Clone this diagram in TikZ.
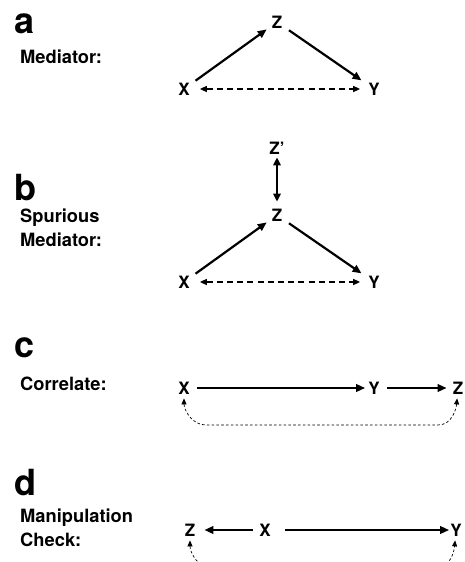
\documentclass[tikz,border=0pt]{standalone}
\usepackage{fontspec}
\setmainfont{TeX Gyre Heros}
\usetikzlibrary{arrows.meta}

\tikzset{
  var/.style={font=\bfseries\fontsize{17}{17}\selectfont, inner sep=0pt},
  panel/.style={font=\bfseries\fontsize{36}{36}\selectfont, inner sep=0pt, anchor=base west},
  caption/.style={font=\bfseries\fontsize{18.3}{24}\selectfont, inner sep=0pt, anchor=base west, align=left},
  cause/.style={line width=2.2pt, -{Triangle[length=9pt,width=7.5pt]}},
  twoway/.style={line width=2pt, {Triangle[length=8pt,width=7.5pt]}-{Triangle[length=8pt,width=7.5pt]}},
  assoc/.style={line width=1.4pt, dash pattern=on 6pt off 4.2pt,
    {Triangle[length=7pt,width=6pt]}-{Triangle[length=7pt,width=6pt]}},
  loop/.style={line width=0.7pt, dash pattern=on 2.6pt off 2.2pt,
    {Triangle[length=6pt,width=5pt]}-{Triangle[length=6pt,width=5pt]}},
}

\begin{document}
\begin{tikzpicture}[x=1pt, y=-1pt]
  \useasboundingbox (0,0) rectangle (464,562);
  \clip (0,0) rectangle (464,562);

  % ---- (a) mediator ----
  \node[panel] (pa) at (14,33) {a};
  \node[caption] (ca) at (20,63) {Mediator:};
  \node[var] (aZ) at (277,22) {Z};
  \node[var] (aX) at (184,89) {X};
  \node[var] (aY) at (374,89) {Y};
  \draw[cause, shorten <=7pt, shorten >=6pt] (aX) -- (aZ);
  \draw[cause, shorten <=8pt, shorten >=8pt] (aZ) -- (aY);
  \draw[assoc, shorten <=10pt, shorten >=8pt] (aX) -- (aY);

  % ---- (b) spurious mediator ----
  \node[panel] (pb) at (14,200) {b};
  \node[caption] (cb) at (20,246) {Spurious\\Mediator:};
  \node[var] (bZp) at (277,148) {Z’};
  \node[var] (bZ) at (277,215) {Z};
  \node[var] (bX) at (184,282) {X};
  \node[var] (bY) at (374,282) {Y};
  \draw[twoway, shorten <=3pt, shorten >=7pt] (bZp) -- (bZ);
  \draw[cause, shorten <=7pt, shorten >=6pt] (bX) -- (bZ);
  \draw[cause, shorten <=8pt, shorten >=8pt] (bZ) -- (bY);
  \draw[assoc, shorten <=10pt, shorten >=8pt] (bX) -- (bY);

  % ---- (c) correlate ----
  \node[panel] (pc) at (14,357) {c};
  \node[caption] (cc) at (20,390) {Correlate:};
  \node[var] (cX) at (184,388) {X};
  \node[var] (cY) at (374,388) {Y};
  \node[var] (cZ) at (458,388) {Z};
  \draw[cause, shorten <=7pt, shorten >=3pt] (cX) -- (cY);
  \draw[cause, shorten <=7pt, shorten >=6pt] (cY) -- (cZ);
  \coordinate (cL) at (206,425);
  \coordinate (cR) at (438,425);
  \draw[loop, shorten <=4pt, shorten >=4pt]
    (cX) to[out=-90, in=180] (cL) -- (cR) to[out=0, in=-95] (cZ);

  % ---- (d) manipulation check ----
  \node[panel] (pd) at (14,495) {d};
  \node[caption] (cd) at (20,546) {Manipulation\\Check:};
  \node[var] (dZ) at (190,530) {Z};
  \node[var] (dX) at (265,530) {X};
  \node[var] (dY) at (456,530) {Y};
  \draw[cause, shorten <=6pt, shorten >=9pt] (dX) -- (dZ);
  \draw[cause, shorten <=14pt, shorten >=1pt] (dX) -- (dY);
  \coordinate (dL) at (212,568);
  \coordinate (dR) at (436,568);
  \draw[loop, shorten <=4pt, shorten >=4pt]
    (dZ) to[out=-90, in=180] (dL) -- (dR) to[out=0, in=-95] (dY);
\end{tikzpicture}
\end{document}
